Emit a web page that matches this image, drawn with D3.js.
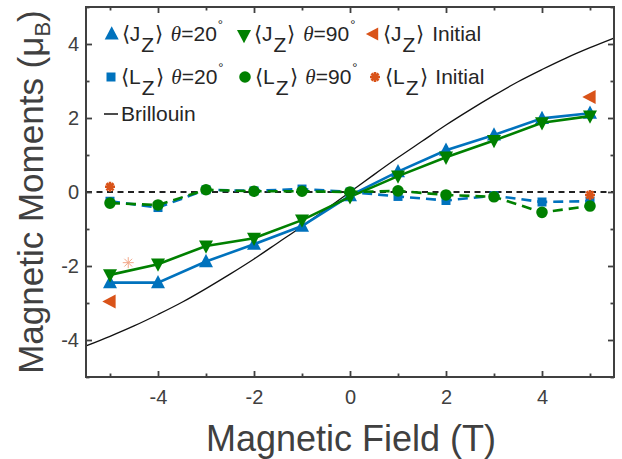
<!DOCTYPE html>
<html>
<head>
<meta charset="utf-8">
<script src="https://cdn.jsdelivr.net/npm/d3@7"></script>
<style>
  body { margin: 0; background: #fff; }
  svg { font-family: "Liberation Sans", Arial, sans-serif; }
</style>
</head>
<body>
<svg id="chart" width="622" height="459"></svg>
<script>
// values
const fields = [-5, -4, -3, -2, -1, 0, 1, 2, 3, 4, 5];
const jz20 = [-2.45, -2.45, -1.88, -1.41, -0.92, -0.1, 0.55, 1.13, 1.54, 1.99, 2.13];
const jz90 = [-2.24, -1.95, -1.46, -1.25, -0.76, -0.13, 0.43, 0.94, 1.39, 1.87, 2.05];
const lz20 = [-0.25, -0.42, 0.06, 0.03, 0.08, 0.0, -0.12, -0.23, -0.1, -0.27, -0.25];
const lz90 = [-0.3, -0.35, 0.06, 0.02, 0.02, 0.0, 0.03, -0.08, -0.13, -0.55, -0.38];
const jzInitField = [-5, 5];
const jzInit = [-2.96, 2.57];
const lzInitField = [-5, 5];
const lzInit = [0.14, -0.08];
const strayField = [-4.62];
const stray = [-1.91];
const brillouinField = [-5.5, -5, -4.5, -4, -3.5, -3, -2.5, -2, -1.5, -1, -0.5, 0,
                        0.5, 1, 1.5, 2, 2.5, 3, 3.5, 4, 4.5, 5, 5.5];
const brillouin = [-4.16, -3.9, -3.62, -3.31, -2.98, -2.61, -2.22, -1.81, -1.37, -0.93, -0.47, 0,
                   0.47, 0.93, 1.37, 1.81, 2.22, 2.61, 2.98, 3.31, 3.62, 3.9, 4.16];
const xMajor = [-4, -2, 0, 2, 4];
const xMinor = [-5, -3, -1, 1, 3, 5];
const yMajor = [-4, -2, 0, 2, 4];
const yMinor = [-5, -3, -1, 1, 3, 5];

const blue = "#0072BD", green = "#008000", orange = "#D95319";
const axisColor = "#404040";

const svg = d3.select("#chart");
const mLeft = 86, mRight = 614, mTop = 7, mBottom = 377;

const x = d3.scaleLinear().domain([-5.5, 5.5]).range([mLeft, mRight]);
const y = d3.scaleLinear().domain([-5, 5]).range([mBottom, mTop]);

const zip = (xs, ys) => xs.map((v, i) => [v, ys[i]]);

// marker paths
const triUp = s => `M0,${-s * 0.55}L${s / 2},${s * 0.4}L${-s / 2},${s * 0.4}Z`;
const triDown = s => `M0,${s * 0.55}L${s / 2},${-s * 0.4}L${-s / 2},${-s * 0.4}Z`;
const triLeft = s => `M${-s * 0.55},0L${s * 0.4},${-s / 2}L${s * 0.4},${s / 2}Z`;
const square = s => `M${-s / 2},${-s / 2}h${s}v${s}h${-s}Z`;
const asterisk = s => {
  const r = s / 2, d = r * 0.7071;
  return `M${-r},0L${r},0M0,${-r}L0,${r}M${-d},${-d}L${d},${d}M${-d},${d}L${d},${-d}`;
};

const plot = svg.append("g");

// brillouin curve
plot.append("path")
  .datum(zip(brillouinField, brillouin))
  .attr("fill", "none")
  .attr("stroke", "#111")
  .attr("stroke-width", 1.3)
  .attr("d", d3.line().x(d => x(d[0])).y(d => y(d[1])).curve(d3.curveMonotoneX));

// zero line
plot.append("line")
  .attr("x1", x(-5.5)).attr("x2", x(5.5))
  .attr("y1", y(0)).attr("y2", y(0))
  .attr("stroke", "#222")
  .attr("stroke-width", 2)
  .attr("stroke-dasharray", "6,4.5");

function series(vals, color, dash, markerPath) {
  const pts = zip(fields, vals);
  plot.append("path")
    .datum(pts)
    .attr("fill", "none")
    .attr("stroke", color)
    .attr("stroke-width", 2.6)
    .attr("stroke-dasharray", dash)
    .attr("d", d3.line().x(d => x(d[0])).y(d => y(d[1])));
  plot.selectAll(null)
    .data(pts)
    .enter().append("path")
    .attr("transform", d => `translate(${x(d[0])},${y(d[1])})`)
    .attr("d", markerPath)
    .attr("fill", color);
}

series(jz20, blue, null, triUp(14));
series(jz90, green, null, triDown(14));
series(lz20, blue, "10,6", square(9));
series(lz90, green, "10,6", d3.symbol(d3.symbolCircle, 105)());

plot.selectAll(null)
  .data(zip(jzInitField, jzInit))
  .enter().append("path")
  .attr("transform", d => `translate(${x(d[0])},${y(d[1])})`)
  .attr("d", triLeft(14))
  .attr("fill", orange);

plot.selectAll(null)
  .data(zip(lzInitField, lzInit))
  .enter().append("g")
  .attr("transform", d => `translate(${x(d[0])},${y(d[1])})`)
  .each(function() {
    d3.select(this).append("circle").attr("r", 3.2).attr("fill", orange);
    d3.select(this).append("path").attr("d", asterisk(10))
      .attr("stroke", orange).attr("stroke-width", 2.6);
  });

plot.selectAll(null)
  .data(zip(strayField, stray))
  .enter().append("path")
  .attr("transform", d => `translate(${x(d[0])},${y(d[1])})`)
  .attr("d", asterisk(11))
  .attr("stroke", "#f2a88a")
  .attr("stroke-width", 1);

// axes with inward ticks, mirrored on top and right
function styleAxis(g) {
  g.select(".domain").remove();
  g.selectAll(".tick line").attr("stroke", axisColor).attr("stroke-width", 1.8);
  g.selectAll(".tick text")
    .attr("fill", axisColor)
    .style("font-size", "20px")
    .style("font-family", '"Liberation Sans", Arial, sans-serif');
}

const fmt = d => d < 0 ? "-" + Math.abs(d) : String(d);

svg.append("g").attr("transform", `translate(0,${mBottom})`)
  .call(d3.axisBottom(x).tickValues(xMajor).tickSize(-6).tickPadding(13).tickFormat(fmt))
  .call(styleAxis);
svg.append("g").attr("transform", `translate(0,${mBottom})`)
  .call(d3.axisBottom(x).tickValues(xMinor).tickSize(-3.5).tickFormat(""))
  .call(styleAxis);
svg.append("g").attr("transform", `translate(0,${mTop})`)
  .call(d3.axisTop(x).tickValues(xMajor).tickSize(-6).tickFormat(""))
  .call(styleAxis);
svg.append("g").attr("transform", `translate(0,${mTop})`)
  .call(d3.axisTop(x).tickValues(xMinor).tickSize(-3.5).tickFormat(""))
  .call(styleAxis);

svg.append("g").attr("transform", `translate(${mLeft},0)`)
  .call(d3.axisLeft(y).tickValues(yMajor).tickSize(-6).tickPadding(7).tickFormat(fmt))
  .call(styleAxis);
svg.append("g").attr("transform", `translate(${mLeft},0)`)
  .call(d3.axisLeft(y).tickValues(yMinor).tickSize(-3.5).tickFormat(""))
  .call(styleAxis);
svg.append("g").attr("transform", `translate(${mRight},0)`)
  .call(d3.axisRight(y).tickValues(yMajor).tickSize(-6).tickFormat(""))
  .call(styleAxis);
svg.append("g").attr("transform", `translate(${mRight},0)`)
  .call(d3.axisRight(y).tickValues(yMinor).tickSize(-3.5).tickFormat(""))
  .call(styleAxis);

svg.append("rect")
  .attr("x", mLeft).attr("y", mTop)
  .attr("width", mRight - mLeft).attr("height", mBottom - mTop)
  .attr("fill", "none")
  .attr("stroke", axisColor)
  .attr("stroke-width", 2);

// axis titles
svg.append("text")
  .attr("x", 351).attr("y", 451)
  .attr("text-anchor", "middle")
  .attr("fill", axisColor)
  .style("font-size", "36px")
  .text("Magnetic Field (T)");

const yt = svg.append("text")
  .attr("transform", "translate(43,192) rotate(-90)")
  .attr("text-anchor", "middle")
  .attr("fill", axisColor)
  .style("font-size", "35px");
yt.append("tspan").text("Magnetic Moments (\u03bc");
yt.append("tspan").attr("dy", 7).style("font-size", "22px").text("B");
yt.append("tspan").attr("dy", -7).text(")");

// legend
const legendRows = [
  [{ sym: "J", ang: "20", marker: triUp(14), color: blue, x: 111.7 },
   { sym: "J", ang: "90", marker: triDown(14), color: green, x: 244 },
   { sym: "J", ang: null, marker: triLeft(13), color: orange, x: 373 }],
  [{ sym: "L", ang: "20", marker: square(9), color: blue, x: 111 },
   { sym: "L", ang: "90", marker: d3.symbol(d3.symbolCircle, 105)(), color: green, x: 245 },
   { sym: "L", ang: null, marker: "ast", color: orange, x: 375 }]
];
const rowY = [34, 77];
const leg = svg.append("g").attr("fill", "#262626").style("font-size", "21px");

legendRows.forEach((row, ri) => {
  row.forEach(item => {
    const cy = rowY[ri] + (ri === 0 && item.ang === "90" ? 1.5 : 0);
    if (item.marker === "ast") {
      const g = leg.append("g").attr("transform", `translate(${item.x},${cy})`);
      g.append("circle").attr("r", 3.2).attr("fill", item.color);
      g.append("path").attr("d", asterisk(10)).attr("stroke", item.color).attr("stroke-width", 2.6);
    } else {
      leg.append("path")
        .attr("transform", `translate(${item.x},${cy})`)
        .attr("d", item.marker)
        .attr("fill", item.color);
    }
    const t = leg.append("text").attr("x", item.x + 10).attr("y", rowY[ri] + 7);
    t.append("tspan").text("\u27e8" + item.sym);
    t.append("tspan").attr("dx", 1).attr("dy", 11).text("Z");
    t.append("tspan").attr("dx", 1).attr("dy", -11).text("\u27e9 ");
    if (item.ang) {
      t.append("tspan").attr("dx", 2).style("font-family", '"Liberation Serif", serif').style("font-style", "italic").text("\u03b8");
      t.append("tspan").text("=" + item.ang);
      t.append("tspan").attr("dx", 1).attr("dy", -12).style("font-size", "13px").text("\u00b0");
    } else {
      t.append("tspan").attr("dx", 2).text("Initial");
    }
  });
});

leg.append("line")
  .attr("x1", 104).attr("x2", 118)
  .attr("y1", 114).attr("y2", 114)
  .attr("stroke", "#111").attr("stroke-width", 1.5);
leg.append("text").attr("x", 121).attr("y", 121).text("Brillouin");
</script>
</body>
</html>
